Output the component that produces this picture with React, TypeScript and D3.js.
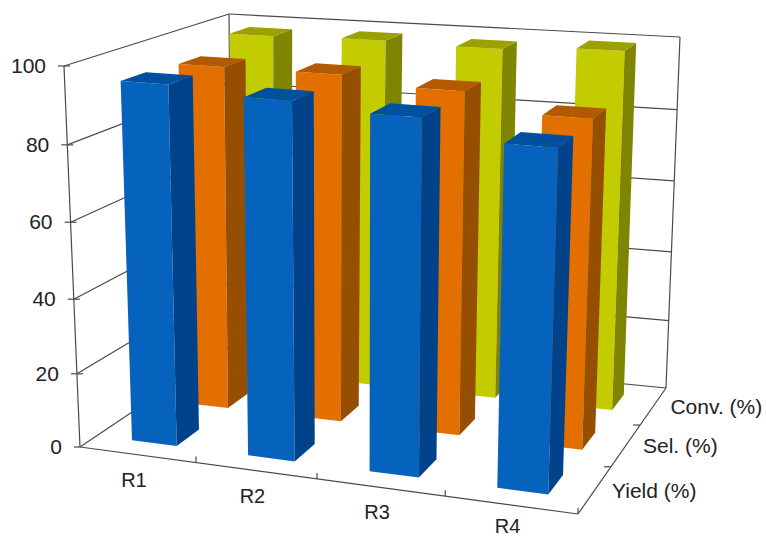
import React from "react";
import * as d3 from "d3";

// Chart content
const categories = ["R1", "R2", "R3", "R4"];
const seriesNames = ["Yield (%)", "Sel. (%)", "Conv. (%)"];
const yieldValues = [95.3, 93.5, 91.8, 87];
const selValues = [94.5, 94.5, 92.3, 87.5];
const convValues = [98, 98.5, 98, 99.3];
const valueTicks = [0, 20, 40, 60, 80, 100];

const W = 766;
const H = 538;
const FONT = "'Liberation Sans', Arial, sans-serif";
const LINE = "#4a4a4a";
const FONT_SIZE = 21;

type Pt = [number, number];

// Box corners of the 3D plot on screen: front-left, front-right, back-right, back-left.
const floorQuad: Pt[] = [[80, 447], [578, 514], [666, 388], [232, 345]];
const ceilingQuad: Pt[] = [[64, 66], [592, 105], [680, 37], [229, 14]];

// Maps the unit square onto a quadrilateral with a projective transform.
function homography(q: Pt[]) {
  const [[x0, y0], [x1, y1], [x2, y2], [x3, y3]] = q;
  const dx1 = x1 - x2, dx2 = x3 - x2, dx3 = x0 - x1 + x2 - x3;
  const dy1 = y1 - y2, dy2 = y3 - y2, dy3 = y0 - y1 + y2 - y3;
  const det = dx1 * dy2 - dx2 * dy1;
  const g = (dx3 * dy2 - dx2 * dy3) / det;
  const h = (dx1 * dy3 - dx3 * dy1) / det;
  const a = x1 - x0 + g * x1, b = x3 - x0 + h * x3;
  const d = y1 - y0 + g * y1, e = y3 - y0 + h * y3;
  return (u: number, z: number): Pt => {
    const w = g * u + h * z + 1;
    return [(a * u + b * z + x0) / w, (d * u + e * z + y0) / w];
  };
}

const floorAt = homography(floorQuad);
const ceilingAt = homography(ceilingQuad);

// Small calibration of the category axis at floor and ceiling level.
const uStops = [0, 0.25, 0.5, 0.75, 1];
const floorU = d3.scaleLinear().domain(uStops).range([0, 0.259, 0.511, 0.76, 1]);
const ceilingU = d3.scaleLinear().domain(uStops).range([0, 0.27, 0.52, 0.765, 1]);

// Value axis is slightly foreshortened towards the top.
const heightScale = d3.scaleLinear()
  .domain(valueTicks)
  .range([0, 0.192, 0.388, 0.59, 0.793, 1]);

function project(u: number, value: number, z: number): Pt {
  const t = heightScale(value);
  const a = floorAt(floorU(u), z);
  const b = ceilingAt(ceilingU(u), z);
  return [a[0] + (b[0] - a[0]) * t, a[1] + (b[1] - a[1]) * t];
}

const uBand = d3.scaleBand<string>().domain(categories).range([0.002, 1.002]).paddingInner(0.61).paddingOuter(0.305);
const zBand = d3.scaleBand<string>().domain(seriesNames).range([0, 1]).paddingInner(0.58).paddingOuter(0.29);

const segment = d3.line<Pt>();
const polygon = (pts: Pt[]) => segment(pts) + "Z";

const palette = [
  { front: "#0563BE", side: "#00438A", top: "#00509F" },
  { front: "#E36F00", side: "#964F00", top: "#B35900" },
  { front: "#C3CC00", side: "#7F8500", top: "#9AA100" },
];

const seriesValues = [yieldValues, selValues, convValues];

function Bar({ cat, si, value }: { cat: string; si: number; value: number }) {
  const u0 = uBand(cat)!;
  const u1 = u0 + uBand.bandwidth();
  const z0 = zBand(seriesNames[si])!;
  const z1 = z0 + zBand.bandwidth();
  const c = palette[si];
  const front = polygon([project(u0, 0, z0), project(u1, 0, z0), project(u1, value, z0), project(u0, value, z0)]);
  const side = polygon([project(u1, 0, z0), project(u1, 0, z1), project(u1, value, z1), project(u1, value, z0)]);
  const top = polygon([project(u0, value, z0), project(u1, value, z0), project(u1, value, z1), project(u0, value, z1)]);
  return (
    <g>
      <path d={front} fill={c.front} />
      <path d={side} fill={c.side} />
      <path d={top} fill={c.top} />
    </g>
  );
}

function Seg({ a, b, w = 1.2 }: { a: Pt; b: Pt; w?: number }) {
  return <line x1={a[0]} y1={a[1]} x2={b[0]} y2={b[1]} stroke={LINE} strokeWidth={w} />;
}

export default function App() {
  const uTicks = d3.range(categories.length + 1).map((i) => i / categories.length);
  const zTicks = d3.range(seriesNames.length + 1).map((i) => i / seriesNames.length);
  return (
    <svg width={W} height={H} style={{ position: "absolute", left: 0, top: 0, background: "#fff" }} fontFamily={FONT}>
      {/* walls and gridlines */}
      {valueTicks.map((v) => {
        const p = project(0, v, 0);
        return (
          <g key={v}>
            <Seg a={p} b={project(0, v, 1)} />
            <Seg a={project(0, v, 1)} b={project(1, v, 1)} />
            <Seg a={[p[0] - 6, p[1]]} b={[p[0] + (v > 0 ? 6 : 0), p[1]]} />
            <text x={p[0] - 18} y={p[1] + 7} textAnchor="end" fontSize={FONT_SIZE} fill="#222">{v}</text>
          </g>
        );
      })}
      <Seg a={project(0, 0, 0)} b={project(0, 100, 0)} />
      <Seg a={project(0, 0, 1)} b={project(0, 100, 1)} />
      <Seg a={project(1, 0, 1)} b={project(1, 100, 1)} />

      {/* floor edges with their ticks */}
      <Seg a={project(0, 0, 0)} b={project(1, 0, 0)} />
      <Seg a={project(1, 0, 0)} b={project(1, 0, 1)} />
      {uTicks.slice(1).map((u) => {
        const p = project(u, 0, 0);
        return <Seg key={u} a={[p[0], p[1] - 6]} b={p} />;
      })}
      {zTicks.slice(1, -1).map((z) => {
        const p = project(1, 0, z);
        return <Seg key={z} a={p} b={[p[0] - 7, p[1]]} />;
      })}

      {/* columns, farthest row first */}
      {d3.range(seriesNames.length - 1, -1, -1).map((si) =>
        categories.map((cat, ci) => <Bar key={cat + si} cat={cat} si={si} value={seriesValues[si][ci]} />)
      )}

      {/* axis labels; the lowest one is kept inside the canvas */}
      {categories.map((cat) => {
        const p = project(uBand(cat)! + uBand.bandwidth() / 2, 0, 0);
        return <text key={cat} x={p[0] - 4} y={Math.min(p[1] + 32, H - 5)} textAnchor="middle" fontSize={FONT_SIZE - 1} fill="#222">{cat}</text>;
      })}
      {seriesNames.map((name) => {
        const p = project(1, 0, zBand(name)! + zBand.bandwidth() / 2);
        return <text key={name} x={p[0] + 17} y={p[1] + 8} fontSize={FONT_SIZE} fill="#222">{name}</text>;
      })}
    </svg>
  );
}
